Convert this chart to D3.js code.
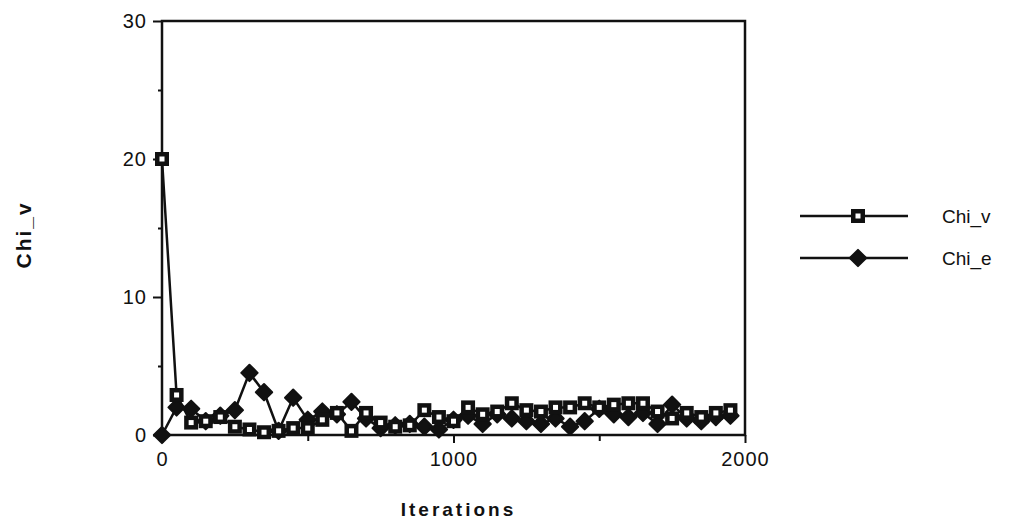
<!DOCTYPE html>
<html>
<head>
<meta charset="utf-8">
<script src="https://cdn.jsdelivr.net/npm/d3@7"></script>
<style>
  body { margin: 0; background: #fff; }
  text { font-family: "Liberation Sans", Arial, sans-serif; fill: #111; }
</style>
</head>
<body>
<script>
  var width = 1018;
  var height = 527;
  var margin = {top: 21, left: 162, right: 273, bottom: 92};

  // data, one point every 50 iterations
  var iterations = d3.range(0, 2000, 50);
  var chiV = [20, 2.9, 0.9, 1.0, 1.3, 0.6, 0.4, 0.2, 0.3, 0.5,
              0.5, 1.1, 1.6, 0.3, 1.6, 0.9, 0.6, 0.7, 1.8, 1.3,
              1.0, 2.0, 1.5, 1.7, 2.3, 1.8, 1.7, 2.0, 2.0, 2.3,
              2.0, 2.2, 2.3, 2.3, 1.7, 1.2, 1.6, 1.3, 1.6, 1.8];
  var chiE = [0, 2.0, 1.9, 1.0, 1.4, 1.8, 4.5, 3.1, 0.3, 2.7,
              1.1, 1.7, 1.5, 2.4, 1.2, 0.5, 0.7, 0.8, 0.6, 0.4,
              1.1, 1.4, 0.8, 1.5, 1.2, 1.0, 0.8, 1.2, 0.6, 1.0,
              1.9, 1.5, 1.3, 1.6, 0.8, 2.2, 1.2, 1.0, 1.3, 1.4];
  var seriesNames = ['Chi_v', 'Chi_e'];
  var xTicks = [0, 1000, 2000];
  var xMinor = [500, 1500];
  var yTicks = [0, 10, 20, 30];
  var yMinor = [5, 15, 25];

  var svg = d3.select('body').append('svg')
    .attr('width', width)
    .attr('height', height);

  var xScale = d3.scaleLinear()
    .domain([0, 2000])
    .range([margin.left, width - margin.right]);
  var yScale = d3.scaleLinear()
    .domain([0, 30])
    .range([height - margin.bottom, margin.top]);

  // frame
  svg.append('rect')
    .attr('x', xScale(0))
    .attr('y', yScale(30))
    .attr('width', xScale(2000) - xScale(0))
    .attr('height', yScale(0) - yScale(30))
    .attr('fill', 'none')
    .attr('stroke', '#111')
    .attr('stroke-width', 2.5);

  // axes
  svg.append('g')
    .attr('transform', 'translate(0,' + yScale(0) + ')')
    .call(d3.axisBottom(xScale).tickValues(xTicks).tickFormat(d3.format('d')).tickSize(8).tickPadding(9));
  svg.append('g')
    .attr('transform', 'translate(0,' + yScale(0) + ')')
    .call(d3.axisBottom(xScale).tickValues(xMinor).tickSize(6).tickFormat(''));
  svg.append('g')
    .attr('transform', 'translate(' + xScale(0) + ',0)')
    .call(d3.axisLeft(yScale).tickValues(yTicks).tickSize(9).tickPadding(6));
  svg.append('g')
    .attr('transform', 'translate(' + xScale(0) + ',0)')
    .call(d3.axisLeft(yScale).tickValues(yMinor).tickSize(4).tickFormat(''));

  svg.selectAll('.domain').remove();
  svg.selectAll('.tick line').attr('stroke', '#111').attr('stroke-width', 2);
  svg.selectAll('.tick text')
    .attr('font-size', 20)
    .attr('font-family', '"Liberation Sans", Arial, sans-serif')
    .attr('letter-spacing', 1)
    .attr('fill', '#111');

  // axis titles
  svg.append('text')
    .attr('x', (xScale(0) + xScale(2000)) / 2 + 5)
    .attr('y', 516)
    .attr('text-anchor', 'middle')
    .attr('font-size', 19)
    .attr('font-weight', 'bold')
    .attr('letter-spacing', 3)
    .text('Iterations');
  svg.append('text')
    .attr('transform', 'translate(31,' + yScale(14.5) + ') rotate(-90)')
    .attr('text-anchor', 'middle')
    .attr('font-size', 21)
    .attr('font-weight', 'bold')
    .attr('letter-spacing', 2)
    .text('Chi_v');

  var line = d3.line()
    .x(function(d) { return xScale(d.x); })
    .y(function(d) { return yScale(d.y); });

  var dataV = iterations.map(function(x, i) { return {x: x, y: chiV[i]}; });
  var dataE = iterations.map(function(x, i) { return {x: x, y: chiE[i]}; });

  function drawSquares(g, data) {
    g.selectAll('rect.outer').data(data).enter().append('rect')
      .attr('class', 'outer')
      .attr('x', function(d) { return xScale(d.x) - 7; })
      .attr('y', function(d) { return yScale(d.y) - 7; })
      .attr('width', 14).attr('height', 14)
      .attr('fill', '#111');
    g.selectAll('rect.inner').data(data).enter().append('rect')
      .attr('class', 'inner')
      .attr('x', function(d) { return xScale(d.x) - 2.5; })
      .attr('y', function(d) { return yScale(d.y) - 2.5; })
      .attr('width', 5).attr('height', 5)
      .attr('fill', '#fff');
  }
  var diamond = d3.symbol().type(d3.symbolDiamond2).size(170);
  function drawDiamonds(g, data) {
    g.selectAll('path').data(data).enter().append('path')
      .attr('d', diamond)
      .attr('transform', function(d) { return 'translate(' + xScale(d.x) + ',' + yScale(d.y) + ')'; })
      .attr('fill', '#111')
      .attr('stroke', '#111')
      .attr('stroke-width', 2)
      .attr('stroke-linejoin', 'round');
  }

  svg.append('path').datum(dataE)
    .attr('d', line).attr('fill', 'none')
    .attr('stroke', '#111').attr('stroke-width', 2.5);
  svg.append('path').datum(dataV)
    .attr('d', line).attr('fill', 'none')
    .attr('stroke', '#111').attr('stroke-width', 2.5);
  drawDiamonds(svg.append('g'), dataE);
  drawSquares(svg.append('g'), dataV);

  // legend
  var legend = svg.append('g');
  seriesNames.forEach(function(name, i) {
    var y = 216 + i * 42;
    legend.append('line')
      .attr('x1', 800).attr('x2', 908)
      .attr('y1', y).attr('y2', y)
      .attr('stroke', '#111').attr('stroke-width', 2.5);
    var pt = [{x: xScale.invert(858), y: yScale.invert(y)}];
    if (i === 0) {
      drawSquares(legend.append('g'), pt);
    } else {
      drawDiamonds(legend.append('g'), pt);
    }
    legend.append('text')
      .attr('x', 942).attr('y', y + 7)
      .attr('font-size', 19)
      .text(name);
  });
</script>
</body>
</html>
